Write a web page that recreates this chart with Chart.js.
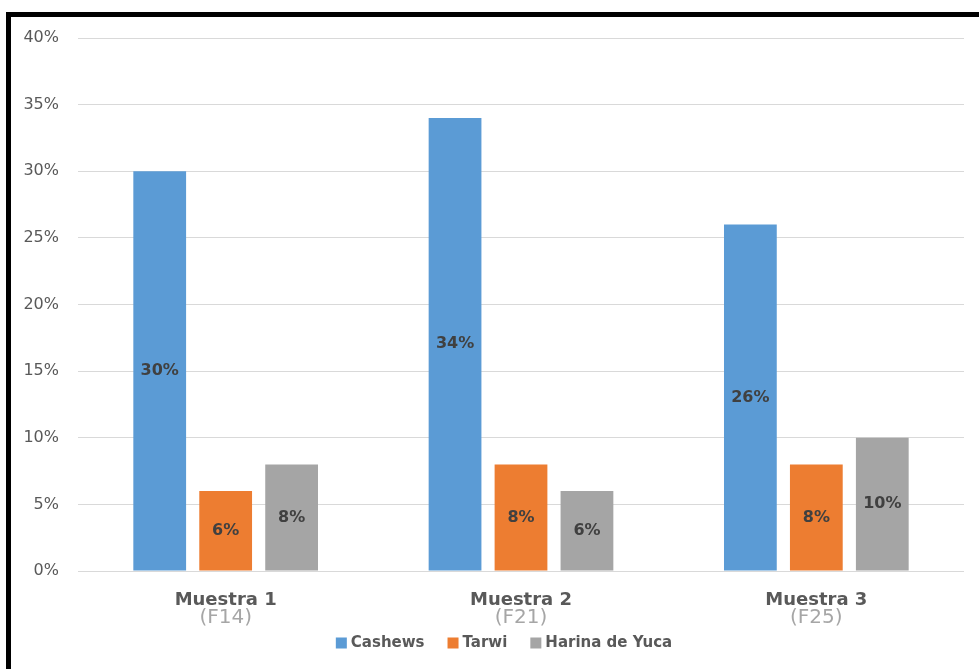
<!DOCTYPE html>
<html>
<head>
<meta charset="utf-8">
<script src="https://cdn.jsdelivr.net/npm/chart.js@4.4.1/dist/chart.umd.min.js"></script>
<style>
  html, body { margin: 0; padding: 0; background: #fff; }
  #frame {
    position: absolute; left: 6px; top: 12px;
    width: 968px; height: 652px;
    border-top: 5px solid #000; border-left: 5px solid #000;
  }
  #chart-canvas { display: block; }
</style>
</head>
<body>
<div id="frame"><canvas id="chart-canvas" width="968" height="652"></canvas></div>
<script>
const categories = ['Muestra 1', 'Muestra 2', 'Muestra 3'];
const subLabels = ['(F14)', '(F21)', '(F25)'];
const seriesNames = ['Cashews', 'Tarwi', 'Harina de Yuca'];
const cashews = [0.30, 0.34, 0.26];
const tarwi = [0.06, 0.08, 0.08];
const harina = [0.08, 0.06, 0.10];
const colors = ['#5B9BD5', '#ED7D31', '#A5A5A5'];
const yTicks = [0, 0.05, 0.10, 0.15, 0.20, 0.25, 0.30, 0.35, 0.40];

const ctx = document.getElementById('chart-canvas').getContext('2d');
const pct = v => Math.round(v * 100) + '%';

// value labels inside bars, two-line category labels and the legend
const extras = {
  id: 'extras',
  afterDatasetsDraw(chart) {
    const c = chart.ctx;
    c.save();
    c.font = 'bold 16px "DejaVu Sans"';
    c.fillStyle = '#404040';
    c.textAlign = 'center';
    c.textBaseline = 'middle';
    chart.data.datasets.forEach((ds, i) => {
      chart.getDatasetMeta(i).data.forEach((bar, j) => {
        c.fillText(pct(ds.data[j]), bar.x, (bar.y + bar.base) / 2);
      });
    });
    c.restore();
  },
  afterDraw(chart) {
    const c = chart.ctx;
    const x = chart.scales.x;
    c.save();
    c.textAlign = 'center';
    c.textBaseline = 'middle';
    categories.forEach((cat, i) => {
      const px = x.getPixelForTick(i);
      c.font = 'bold 18px "DejaVu Sans"';
      c.fillStyle = '#595959';
      c.fillText(cat, px, 583);
      c.font = '20px "DejaVu Sans"';
      c.fillStyle = '#A6A6A6';
      c.fillText(subLabels[i], px, 601);
    });

    // legend
    c.font = 'bold 15px "DejaVu Sans"';
    const box = 11, gapText = 4, gapItem = 23;
    const widths = seriesNames.map(n => c.measureText(n).width);
    const total = widths.reduce((s, w) => s + box + gapText + w, 0) + gapItem * (seriesNames.length - 1);
    let lx = chart.width / 2 + 9 - total / 2;
    const ly = 626;
    c.textAlign = 'left';
    seriesNames.forEach((n, i) => {
      c.fillStyle = colors[i];
      c.fillRect(lx, ly - box / 2, box, box);
      c.fillStyle = '#595959';
      c.fillText(n, lx + box + gapText, ly);
      lx += box + gapText + widths[i] + gapItem;
    });
    c.restore();
  }
};

new Chart(ctx, {
  type: 'bar',
  data: {
    labels: categories,
    datasets: [cashews, tarwi, harina].map((data, i) => ({
      label: seriesNames[i],
      data,
      backgroundColor: colors[i],
      borderWidth: 0,
      categoryPercentage: 0.67,
      barPercentage: 0.8
    }))
  },
  options: {
    responsive: false,
    animation: false,
    layout: { padding: { top: 21, right: 15, bottom: 0, left: 0 } },
    plugins: {
      legend: { display: false },
      tooltip: { enabled: false }
    },
    scales: {
      x: {
        grid: { display: false },
        border: { display: false },
        ticks: { display: false },
        afterFit: s => { s.height = 98; }
      },
      y: {
        min: 0,
        max: 0.4,
        afterBuildTicks: s => { s.ticks = yTicks.map(v => ({ value: v })); },
        afterFit: s => {
          s.width = 67;
          s.paddingTop = 0;
          s.paddingBottom = 0;
        },
        grid: { color: '#D9D9D9', lineWidth: 1, drawTicks: false },
        border: { display: false },
        ticks: {
          padding: 19,
          color: '#595959',
          font: { family: 'DejaVu Sans', size: 16 },
          callback: v => pct(v)
        }
      }
    }
  },
  plugins: [extras]
});
</script>
</body>
</html>
